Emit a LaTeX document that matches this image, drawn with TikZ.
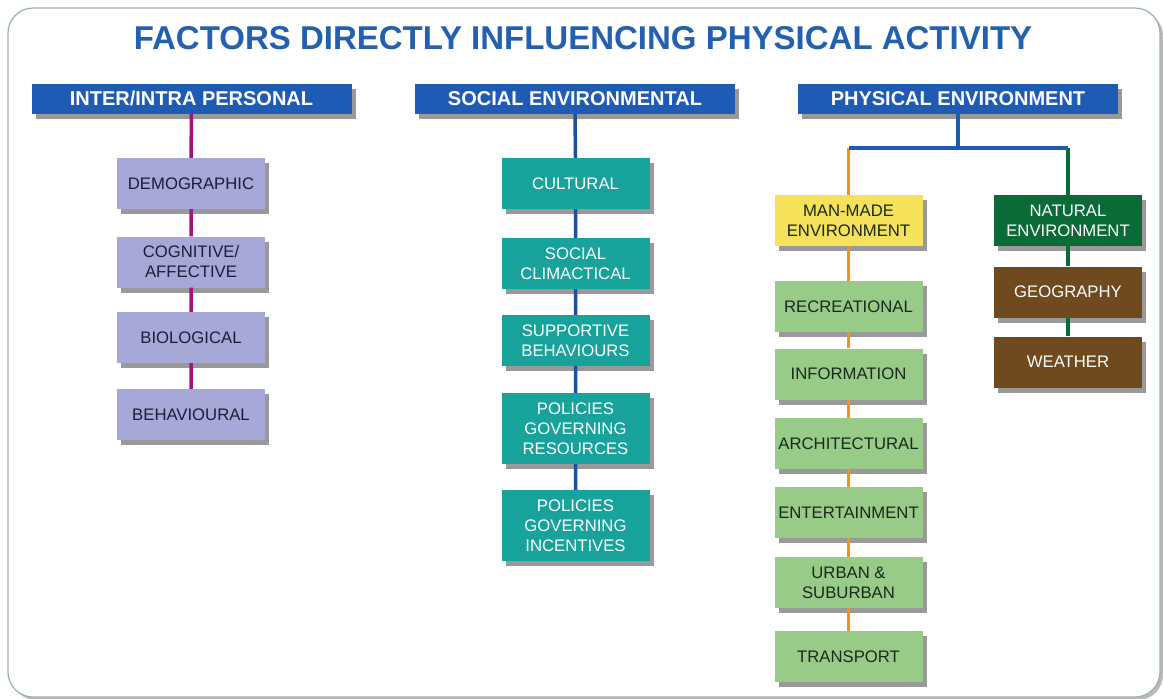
\documentclass[tikz,border=0pt]{standalone}
\usepackage{fontspec}
\setmainfont{Liberation Sans}
\usetikzlibrary{shadows}
\definecolor{hdrblue}{HTML}{1E5BB5}
\definecolor{titleblue}{HTML}{2360B0}
\definecolor{lav}{HTML}{A8A8D8}
\definecolor{tealbox}{HTML}{17A39C}
\definecolor{yel}{HTML}{F5E15A}
\definecolor{lgreen}{HTML}{98CA88}
\definecolor{dgreen}{HTML}{0A6B36}
\definecolor{brown}{HTML}{6E4A1E}
\definecolor{magline}{HTML}{A2137E}
\definecolor{blueline}{HTML}{1F4FA0}
\definecolor{orangeline}{HTML}{F39221}
\definecolor{frame}{HTML}{9AB0B0}
\definecolor{navytext}{HTML}{1C1C3C}
\definecolor{darktext}{HTML}{1A2A1A}
\tikzset{
  shad/.style={drop shadow={shadow xshift=4pt, shadow yshift=-5pt, fill=black, opacity=0.4}},
  hdr/.style={shad, fill=hdrblue, text=white, font=\fontsize{20}{22}\selectfont\bfseries,
    minimum width=320, minimum height=30, inner sep=0pt},
  box/.style={shad, minimum width=148, minimum height=51, inner sep=0pt, align=center,
    font=\fontsize{16.7}{20}\selectfont},
  purp/.style={box, fill=lav, text=navytext},
  tealb/.style={box, fill=tealbox, text=white},
  yelb/.style={box, fill=yel, text=darktext},
  grnb/.style={box, fill=lgreen, text=darktext},
  natb/.style={box, fill=dgreen, text=white},
  brnb/.style={box, fill=brown, text=white},
  conn/.style={line width=3.5pt},
}
\begin{document}
\begin{tikzpicture}[x=1pt,y=-1pt]
\useasboundingbox (0,0) rectangle (1163,699);
\fill[white] (0,0) rectangle (1163,699);
\fill[black!45, opacity=0.6] (11,11) [rounded corners=25pt] rectangle (1163,700);
\draw[frame, fill=white, line width=1.2pt, rounded corners=25pt] (8,8) rectangle (1160,697);

\node[font=\fontsize{33}{35}\selectfont\bfseries, text=titleblue] (title) at (583,38) {FACTORS DIRECTLY INFLUENCING PHYSICAL ACTIVITY};

% headers
\node[hdr] (h1) at (191.5,98.5) {INTER/INTRA PERSONAL};
\node[hdr] (h2) at (575,98.5) {SOCIAL ENVIRONMENTAL};
\node[hdr] (h3) at (958,98.5) {PHYSICAL ENVIRONMENT};

% column 1
\node[purp] (p1) at (191,183.5) {DEMOGRAPHIC};
\node[purp] (p2) at (191,262) {COGNITIVE/\\AFFECTIVE};
\node[purp] (p3) at (191,337.5) {BIOLOGICAL};
\node[purp] (p4) at (191,414.5) {BEHAVIOURAL};

% column 2
\node[tealb] (s1) at (575.5,183.5) {CULTURAL};
\node[tealb] (s2) at (575.5,263.5) {SOCIAL\\CLIMACTICAL};
\node[tealb] (s3) at (575.5,340.5) {SUPPORTIVE\\BEHAVIOURS};
\node[tealb, minimum height=71] (s4) at (575.5,428.5) {POLICIES\\GOVERNING\\RESOURCES};
\node[tealb, minimum height=71] (s5) at (575.5,525.5) {POLICIES\\GOVERNING\\INCENTIVES};

% column 3
\node[yelb] (m0) at (848.5,220.5) {MAN-MADE\\ENVIRONMENT};
\node[grnb] (m1) at (848.5,306.5) {RECREATIONAL};
\node[grnb] (m2) at (848.5,374) {INFORMATION};
\node[grnb] (m3) at (848.5,443.5) {ARCHITECTURAL};
\node[grnb] (m4) at (848.5,512.5) {ENTERTAINMENT};
\node[grnb] (m5) at (848.5,582.5) {URBAN \&\\SUBURBAN};
\node[grnb] (m6) at (848.5,656.5) {TRANSPORT};

\node[natb] (n0) at (1068,220.5) {NATURAL\\ENVIRONMENT};
\node[brnb] (n1) at (1068,292) {GEOGRAPHY};
\node[brnb] (n2) at (1068,362) {WEATHER};

% connectors
\draw[conn, magline] (h1.south) -- (p1.north) (p1.south) -- (p2.north) (p2.south) -- (p3.north) (p3.south) -- (p4.north);
\draw[conn, blueline] (h2.south) -- (s1.north) (s1.south) -- (s2.north) (s2.south) -- (s3.north) (s3.south) -- (s4.north) (s4.south) -- (s5.north);

\coordinate (split) at (958,148);
\coordinate (bl) at (848.5,148);
\coordinate (br) at (1068,148);
\draw[conn, orangeline] (bl) -- (m0.north);
\draw[conn, dgreen] (br) -- (n0.north);
\draw[conn, hdrblue] (h3.south) -- (split);
\draw[conn, hdrblue] (bl) -- (br);
\draw[conn, orangeline] (m0.south) -- (m1.north) (m1.south) -- (m2.north) (m2.south) -- (m3.north) (m3.south) -- (m4.north) (m4.south) -- (m5.north) (m5.south) -- (m6.north);
\draw[conn, dgreen] (n0.south) -- (n1.north) (n1.south) -- (n2.north);
\end{tikzpicture}
\end{document}
